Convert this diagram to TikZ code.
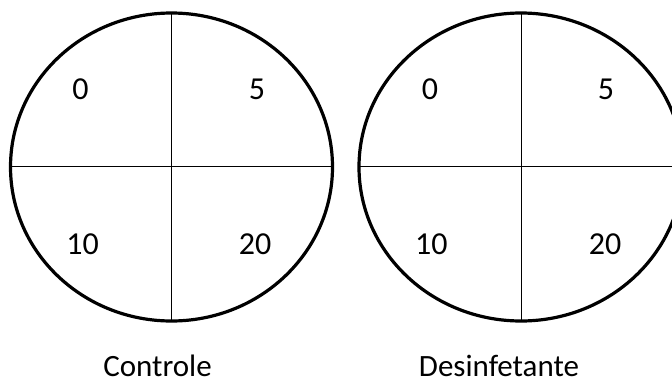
\documentclass[tikz,border=0pt]{standalone}
\usepackage{fontspec}
\setmainfont{Carlito}
\begin{document}
\begin{tikzpicture}[x=1pt,y=-1pt,
  dish/.style={draw=black,line width=3.2pt},
  divider/.style={draw=black,line width=1pt},
  lab/.style={font=\fontsize{32}{36}\selectfont,inner sep=0pt,anchor=base},
  caption/.style={font=\fontsize{31}{36}\selectfont,inner sep=0pt,text depth=0pt,anchor=base}]
\useasboundingbox (0,0) rectangle (672,378);
\begin{scope}
\clip (0,0) rectangle (672,378);
% left dish
\draw[dish] (171.5,167) ellipse [x radius=161, y radius=154];
\coordinate (lt) at (171.5,13);
\coordinate (lb) at (171.5,321);
\coordinate (ll) at (10,166.5);
\coordinate (lr) at (333,166.5);
\draw[divider] (lt) -- (lb);
\draw[divider] (ll) -- (lr);
% right dish
\draw[dish] (521,167) ellipse [x radius=162, y radius=154];
\coordinate (rt) at (521,13);
\coordinate (rb) at (521,321);
\coordinate (rl) at (359,166.5);
\coordinate (rr) at (683,166.5);
\draw[divider] (rt) -- (rb);
\draw[divider] (rl) -- (rr);
\end{scope}
\node[lab] (l0) at (80.5,99.3) {0};
\node[lab] (l5) at (257,99.3) {5};
\node[lab] (l10) at (82.5,254) {10};
\node[lab] (l20) at (255,254) {20};
\node[lab] (r0) at (430,99.3) {0};
\node[lab] (r5) at (606,99.3) {5};
\node[lab] (r10) at (431.3,254) {10};
\node[lab] (r20) at (605,254) {20};
\node[caption] (c1) at (157.5,376) {Controle};
\node[caption] (c2) at (499,376) {Desinfetante};
\end{tikzpicture}
\end{document}
